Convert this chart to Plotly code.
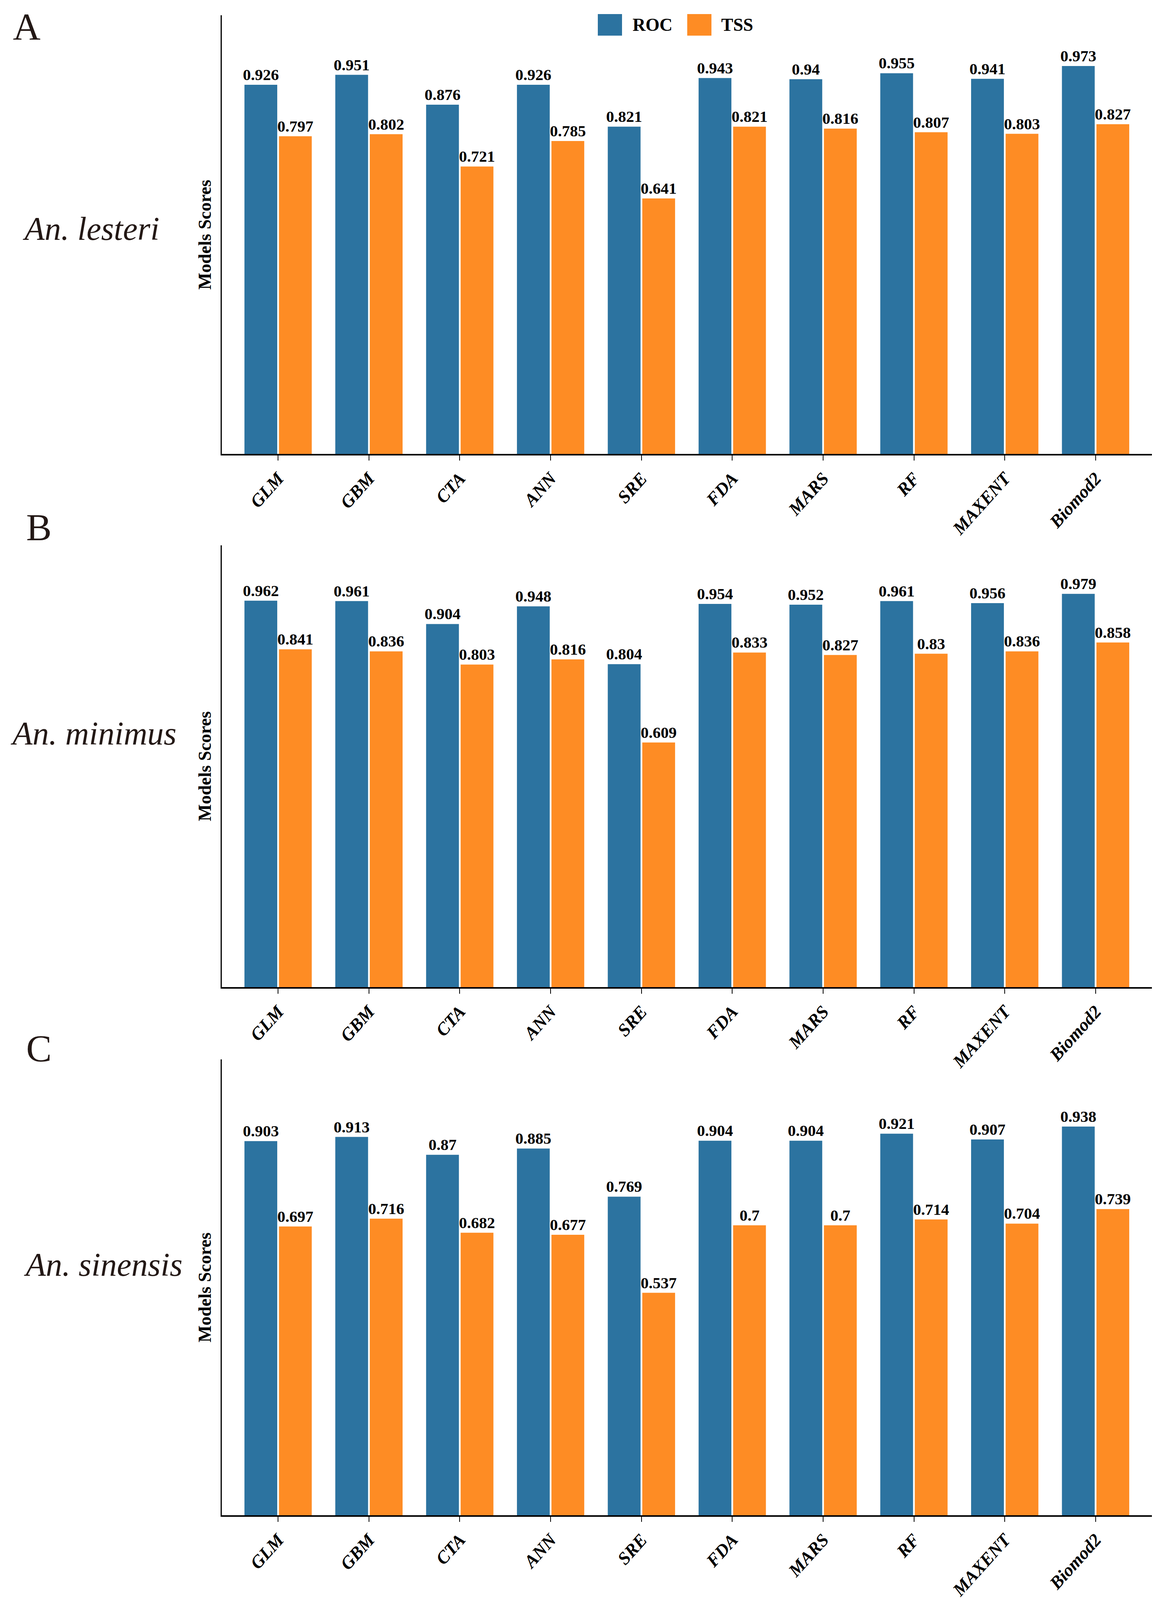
"""Model scores (ROC / TSS) for three Anopheles species"""

import plotly.graph_objects as go

models = ["GLM", "GBM", "CTA", "ANN", "SRE", "FDA", "MARS", "RF", "MAXENT", "Biomod2"]
species = ["An. lesteri", "An. minimus", "An. sinensis"]
panels = ["A", "B", "C"]

roc_lesteri = [0.926, 0.951, 0.876, 0.926, 0.821, 0.943, 0.94, 0.955, 0.941, 0.973]
tss_lesteri = [0.797, 0.802, 0.721, 0.785, 0.641, 0.821, 0.816, 0.807, 0.803, 0.827]
roc_minimus = [0.962, 0.961, 0.904, 0.948, 0.804, 0.954, 0.952, 0.961, 0.956, 0.979]
tss_minimus = [0.841, 0.836, 0.803, 0.816, 0.609, 0.833, 0.827, 0.83, 0.836, 0.858]
roc_sinensis = [0.903, 0.913, 0.87, 0.885, 0.769, 0.904, 0.904, 0.921, 0.907, 0.938]
tss_sinensis = [0.697, 0.716, 0.682, 0.677, 0.537, 0.7, 0.7, 0.714, 0.704, 0.739]

BLUE = "#2c73a0"
ORANGE = "#fe8c24"
FONT = "Liberation Serif"

# the page only gets photographed down to ~4096 px, so the layout
# (measured on the 2981x4857 original) is squeezed vertically to fit
REF_H = 4857
VIEW_H = 4096
S = VIEW_H / REF_H
PAD = 8  # default body margin of the html page
W, H = 2981 - PAD, VIEW_H - PAD


def px(x):
    return (x - PAD) / W


def py(y):
    return 1 - (y * S - PAD) / H


roc_all = [roc_lesteri, roc_minimus, roc_sinensis]
tss_all = [tss_lesteri, tss_minimus, tss_sinensis]

# panel geometry, pixels of the original picture
x0, x1 = 568, 2950
ybounds = [(47, 1388), (1667, 3018), (3239, 4633)]
species_pos = [(233, 699), (239, 2242), (264, 3866)]
letter_pos = [(68, 14), (99, 1545), (99, 3138)]  # top of each panel letter

fig = go.Figure()
layout = {}
annotations = []

for i in range(3):
    n = "" if i == 0 else str(i + 1)
    for vals, color, name in [(roc_all[i], BLUE, "ROC"), (tss_all[i], ORANGE, "TSS")]:
        fig.add_trace(
            go.Bar(
                x=models,
                y=vals,
                name=name,
                text=[str(v) for v in vals],
                textposition="outside",
                textangle=0,
                constraintext="none",
                cliponaxis=False,
                textfont=dict(family=FONT, size=41, color="black", weight="bold"),
                marker=dict(color=color, line=dict(width=0)),
                xaxis="x" + n,
                yaxis="y" + n,
                showlegend=False,
            )
        )
    top, bot = ybounds[i]
    layout["xaxis" + n] = dict(
        domain=[px(x0), px(x1)],
        anchor="y" + n,
        type="category",
        range=[-0.62, 9.62],
        showline=True,
        linecolor="black",
        linewidth=4,
        ticks="outside",
        ticklen=13,
        tickwidth=2,
        tickcolor="black",
        tickangle=-48,
        tickfont=dict(family=FONT, size=46, color="black", weight="bold", style="italic"),
        showgrid=False,
        zeroline=False,
    )
    layout["yaxis" + n] = dict(
        domain=[py(bot), py(top)],
        anchor="x" + n,
        range=[0, 1.1],
        showline=True,
        linecolor="black",
        linewidth=3,
        showticklabels=False,
        ticks="",
        showgrid=False,
        zeroline=False,
        title=dict(
            text="Models Scores",
            font=dict(family=FONT, size=46, color="black", weight="bold"),
            standoff=10,
        ),
    )
    sx, sy = species_pos[i]
    annotations.append(
        dict(
            text=species[i], x=px(sx), y=py(sy), xref="paper", yref="paper",
            showarrow=False, xanchor="center", yanchor="middle",
            font=dict(family=FONT, size=84, color="#231815", style="italic"),
        )
    )
    lx, ly = letter_pos[i]
    annotations.append(
        dict(
            text=panels[i], x=px(lx), y=py(ly), xref="paper", yref="paper",
            showarrow=False, xanchor="center", yanchor="top",
            font=dict(family=FONT, size=98, color="#231815"),
        )
    )

# legend keys drawn by hand (plotly's bar legend swatches are too small)
shapes = []
for (kx0, kx1, tx, label, color) in [
    (1531, 1593, 1618, "ROC", BLUE),
    (1760, 1822, 1845, "TSS", ORANGE),
]:
    shapes.append(
        dict(type="rect", xref="paper", yref="paper",
             x0=px(kx0), x1=px(kx1), y0=py(109), y1=py(43),
             fillcolor=color, line=dict(width=0))
    )
    annotations.append(
        dict(
            text=label, x=px(tx), y=py(76), xref="paper", yref="paper",
            showarrow=False, xanchor="left", yanchor="middle",
            font=dict(family=FONT, size=46, color="black", weight="bold"),
        )
    )

fig.update_layout(
    **layout,
    width=W,
    height=H,
    margin=dict(l=0, r=0, t=0, b=0),
    barmode="group",
    bargap=0.24,
    bargroupgap=0.05,
    plot_bgcolor="white",
    paper_bgcolor="white",
    annotations=annotations,
    shapes=shapes,
    showlegend=False,
)

fig.write_html("out.html")
